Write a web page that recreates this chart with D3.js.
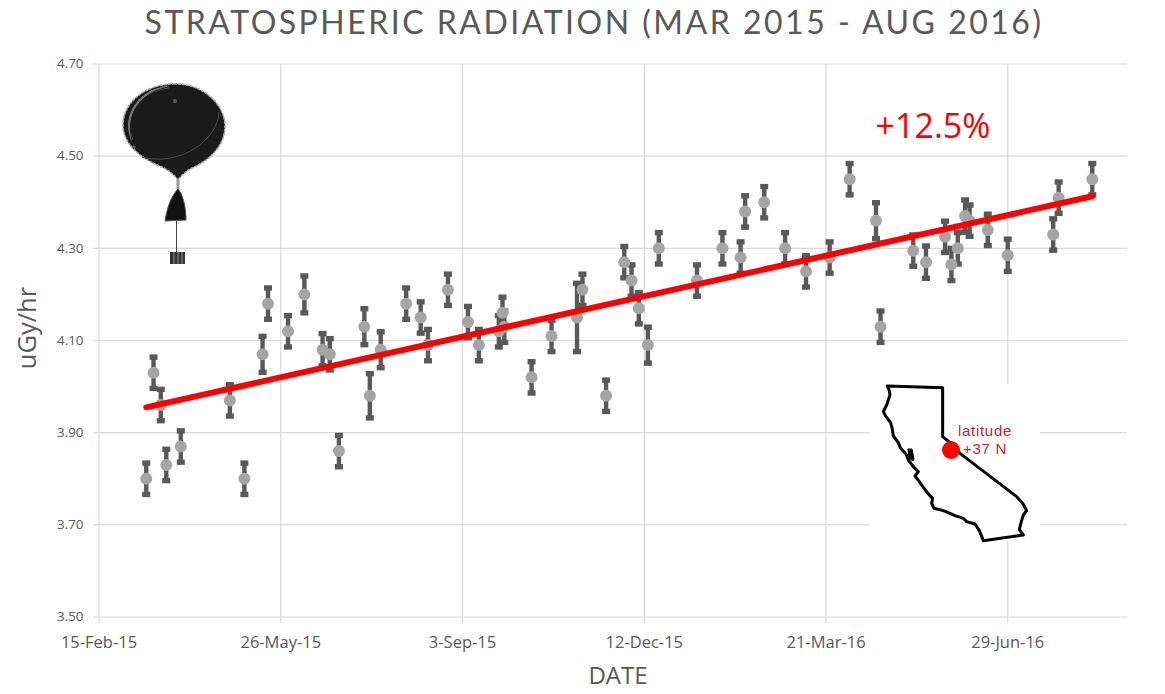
<!DOCTYPE html>
<html><head><meta charset="utf-8">
<script src="https://cdn.jsdelivr.net/npm/d3@7"></script>
<style>html,body{margin:0;padding:0;background:#fff}svg{display:block}text{font-family:"Open Sans",sans-serif}</style>
</head><body><svg id="c" width="1165" height="694"></svg>
<script>
const titleText = "STRATOSPHERIC RADIATION (MAR 2015 - AUG 2016)";
const startDate = "2015-02-15";
const dayOffsets = [26,30,34,37,45,72,80,90,93,104,113,123,127,132,146,149,155,169,177,181,192,203,209,220,222,223,238,249,263,266,279,289,293,297,302,308,329,343,353,355.5,366,377.5,389,402,413,427.5,430,448,455,465.5,469,472.5,476.5,479,489,500,525,528,546.5];
const values =   [3.80,4.03,3.96,3.83,3.87,3.97,3.80,4.07,4.18,4.12,4.20,4.08,4.07,3.86,4.13,3.98,4.08,4.18,4.15,4.09,4.21,4.14,4.09,4.12,4.16,4.13,4.02,4.11,4.15,4.21,3.98,4.27,4.23,4.17,4.09,4.30,4.23,4.30,4.28,4.38,4.40,4.30,4.25,4.28,4.45,4.36,4.13,4.295,4.27,4.325,4.265,4.30,4.37,4.36,4.34,4.285,4.33,4.41,4.45];
const errors =   [.034,.034,.034,.034,.034,.034,.034,.039,.034,.034,.04,.035,.034,.034,.039,.048,.039,.034,.034,.034,.034,.034,.034,.034,.034,.034,.034,.034,.074,.034,.034,.034,.034,.034,.039,.034,.034,.034,.034,.034,.034,.034,.034,.034,.034,.039,.034,.034,.035,.034,.035,.034,.035,.034,.034,.035,.034,.034,.034];
const trendDays = [26,546.5];
const trendValues = [3.955,4.413];
const yTicks = [3.5,3.7,3.9,4.1,4.3,4.5,4.7];
const tickDays = [0,100,200,300,400,500];
const changeLabel = "+12.5%";
const mapLabels = ["latitude","+37 N"];

const svg = d3.select("#c");
const t0 = d3.utcParse("%Y-%m-%d")(startDate);
const toDate = d => new Date(+t0 + d*864e5);
const x = d3.scaleUtc().domain([t0, toDate(565.6)]).range([99, 1127]);
const y = d3.scaleLinear().domain([3.5, 4.7]).range([617, 64]);
const ink = "#595959", grid = "#d9d9d9";

// grid + axes
const xAxis = d3.axisBottom(x).offset(0).tickValues(tickDays.map(toDate)).tickFormat(d3.utcFormat("%-d-%b-%y")).tickSize(-553).tickPadding(17);
const gx = svg.append("g").attr("transform","translate(0,617)").call(xAxis);
gx.select(".domain").remove();
gx.selectAll(".tick line").attr("stroke",grid).attr("stroke-width",1.2).attr("y1",6);
gx.selectAll("text").attr("fill",ink).attr("font-size",16.5).attr("y",18).attr("dy","13px").style("font-family",'"Open Sans",sans-serif');
const yAxis = d3.axisLeft(y).offset(0).tickValues(yTicks).tickFormat(d3.format(".2f")).tickSize(-1028).tickPadding(15.5);
const gy = svg.append("g").attr("transform","translate(99,0)").call(yAxis);
gy.select(".domain").remove();
gy.selectAll(".tick line").attr("stroke",grid).attr("stroke-width",1.2).attr("x1",-6);
gy.selectAll("text").attr("fill",ink).attr("font-size",13.4).style("font-family",'"Open Sans",sans-serif');

// titles
svg.append("text").attr("x",594).attr("y",33.5).attr("text-anchor","middle").attr("fill",ink)
  .attr("font-size",32).attr("letter-spacing",2.5).style("font-family","Lato,sans-serif").text(titleText);
svg.append("text").attr("x",618).attr("y",684).attr("text-anchor","middle").attr("fill",ink).attr("font-size",24).text("DATE");
svg.append("text").attr("transform","translate(35.5,328) rotate(-90)").attr("text-anchor","middle").attr("fill",ink).attr("font-size",25.5).text("uGy/hr");

// data
const rows = dayOffsets.map((d,i)=>({d:toDate(d),v:values[i],e:errors[i]}));
const bars = svg.append("g").selectAll("g").data(rows).join("g");
bars.append("line").attr("x1",r=>x(r.d)).attr("x2",r=>x(r.d)).attr("y1",r=>y(r.v+r.e)).attr("y2",r=>y(r.v-r.e)).attr("stroke",ink).attr("stroke-width",4.4);
bars.append("rect").attr("x",r=>x(r.d)-4).attr("width",8).attr("y",r=>y(r.v+r.e)-2.7).attr("height",5.4).attr("fill",ink);
bars.append("rect").attr("x",r=>x(r.d)-4).attr("width",8).attr("y",r=>y(r.v-r.e)-2.7).attr("height",5.4).attr("fill",ink);
svg.append("g").selectAll("circle").data(rows).join("circle")
  .attr("cx",r=>x(r.d)).attr("cy",r=>y(r.v)).attr("r",6).attr("fill","#a5a5a5");

// trend
svg.append("path").datum(trendDays.map((d,i)=>[toDate(d),trendValues[i]]))
  .attr("d",d3.line().x(p=>x(p[0])).y(p=>y(p[1]))).attr("fill","none").attr("stroke","#ff0000").attr("stroke-width",6).attr("stroke-linecap","round");
svg.append("text").attr("x",933).attr("y",138).attr("text-anchor","middle").attr("fill","#ff0000").attr("font-size",34).text(changeLabel);

// balloon illustration
const b = svg.append("g");
b.append("path").attr("d","M174,84 C202,83 225,104 225,126 C225,148 206,162 192,168 C186,171 181,176 178,180 C175,176 170,171 162,167 C144,160 123,146 123,125 C123,102 146,84 174,84 Z").attr("fill","#1a1a1a").attr("stroke","#a8a8a8").attr("stroke-width",1.6).attr("stroke-dasharray","3 1");
b.append("path").attr("d","M169,87 C142,90 122,112 132,140").attr("fill","none").attr("stroke","#777").attr("stroke-width",2.4);
b.append("path").attr("d","M169,87 C144,91 125,112 132,140").attr("fill","none").attr("stroke","#1a1a1a").attr("stroke-width",1);
b.append("path").attr("d","M219,112 C218,140 180,167 142,157").attr("fill","none").attr("stroke","#4a4a4a").attr("stroke-width",1);
b.append("circle").attr("cx",175).attr("cy",101).attr("r",2).attr("fill","#555");
b.append("circle").attr("cx",134).attr("cy",147).attr("r",1.8).attr("fill","#555");
b.append("path").attr("d","M178,180 L178,189").attr("stroke","#999").attr("stroke-width",3);
b.append("path").attr("d","M178,189 C184,196 186,210 186,220 L165,221 C167,208 171,196 178,189 Z").attr("fill","#111").attr("stroke","#555");
b.append("path").attr("d","M176.5,221 L176.5,252").attr("stroke","#444").attr("stroke-width",1);
b.append("rect").attr("x",170).attr("y",252).attr("width",15).attr("height",12).attr("fill","#333");
b.append("path").attr("d","M174,252V264M178,252V264M182,252V264").attr("stroke","#aaa").attr("stroke-width",.8);

// California inset (outline traced in the 3x crop's coordinates)
const caOutline = [[82,48],[248,53],[248,200],[275,222],[300,250],[470,380],[488,400],[500,422],[490,435],[484,455],[478,478],[490,495],[370,512],[358,482],[345,462],[320,455],[310,445],[285,437],[270,430],[250,422],[222,415],[215,400],[218,385],[205,372],[190,352],[178,335],[165,318],[175,305],[160,290],[145,270],[138,252],[122,235],[115,218],[100,198],[97,178],[92,158],[78,140],[70,125],[80,105],[85,90],[90,75],[88,62]];
svg.append("rect").attr("x",869).attr("y",384).attr("width",171).attr("height",157).attr("fill","#fff");
svg.append("path").attr("transform","translate(860,370) scale(0.3333)")
  .attr("d",d3.line().curve(d3.curveLinearClosed)(caOutline))
  .attr("fill","none").attr("stroke","#000").attr("stroke-width",9).attr("stroke-linejoin","round");
svg.append("path").attr("d","M908,449 L912,449 L914,459 L913,461 L909,458 Z").attr("fill","#000").attr("stroke","#000");
svg.append("circle").attr("cx",951).attr("cy",450).attr("r",9).attr("fill","#ff0000");
const mapText = svg.append("text").attr("text-anchor","middle").attr("fill","#d0202a").attr("font-size",15).attr("letter-spacing",.7).style("font-family",'"Liberation Sans",sans-serif');
mapText.append("tspan").attr("x",985).attr("y",436).text(mapLabels[0]);
mapText.append("tspan").attr("x",985).attr("y",453.5).text(mapLabels[1]);
</script></body></html>
